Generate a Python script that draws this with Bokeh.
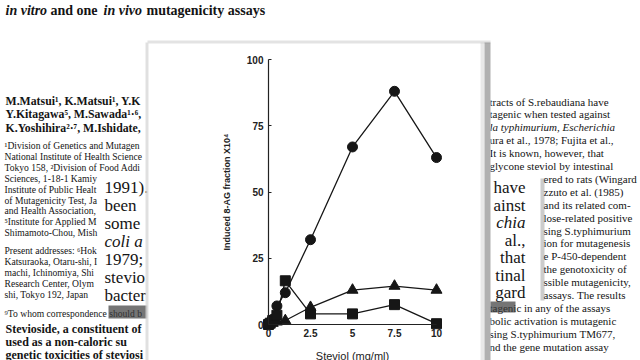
from bokeh.plotting import figure
from bokeh.models import Label, BoxAnnotation
from bokeh.embed import file_html
from bokeh.resources import INLINE

# ---------------- chart data ----------------
dose_circle = [0, 0.1, 0.25, 0.5, 1, 2.5, 5, 7.5, 10]
frac_circle = [0, 1, 2, 7, 12, 32, 67, 88, 63]
dose_square = [0, 0.1, 0.25, 0.5, 1, 2.5, 5, 7.5, 10]
frac_square = [0, 0.5, 1.5, 3.5, 16.5, 4, 4, 7.5, 0.3]
dose_tri = [0, 0.25, 0.5, 1, 2.5, 5, 7.5, 10]
frac_tri = [0, 0.5, 1, 1.5, 6.5, 13, 14.5, 13]
x_ticks = [0, 2.5, 5, 7.5, 10]
x_tick_text = ["0", "2.5", "5", "7.5", "10"]
y_ticks = [0, 25, 50, 75, 100]
x_title = "Steviol (mg/ml)"
y_title = "Induced 8-AG fraction X10\u2074"

# ---------------- surrounding page text ----------------
title_parts = [("in vitro", "bold italic"), ("and one", "bold"), ("in vivo", "bold italic"),
               ("mutagenicity assays", "bold")]
authors = ["M.Matsui\u00b9, K.Matsui\u00b9, Y.K", "Y.Kitagawa\u2075, M.Sawada\u00b9\u00b7\u2076,",
           "K.Yoshihira\u00b2\u00b7\u2077, M.Ishidate,"]
affil = ["\u00b9Division of Genetics and Mutagen", "National Institute of Health Science",
         "Tokyo 158, \u00b2Division of Food Addi", "Sciences, 1-18-1 Kamiy",
         "Institute of Public Healt", "of Mutagenicity Test, Ja", "and Health Association,",
         "\u2075Institute for Applied M", "Shimamoto-Chou, Mish"]
present = ["Present addresses: \u2076Hok", "Katsuraoka, Otaru-shi, I", "machi, Ichinomiya, Shi",
           "Research Center, Olym", "shi, Tokyo 192, Japan"]
corresp = "\u2079To whom correspondence should b"
abstract = ["Stevioside, a constituent of", "used as a non-caloric su", "genetic toxicities of steviosi"]
left_big = ["1991).", "been", "some", "coli a", "1979;", "stevio", "bacter"]
right_lines = ["tracts of S.rebaudiana have", "tagenic when tested against",
               "la typhimurium, Escherichia", "ura et al., 1978; Fujita et al.,",
               "It is known, however, that", "glycone steviol by intestinal",
               "ered to rats (Wingard", "zzuto et al. (1985)", "and its related com-",
               "lose-related positive", "sing S.typhimurium", "ion for mutagenesis",
               "e P-450-dependent", "the genotoxicity of", "ssible mutagenicity,",
               "assays. The results", "tagenic in any of the assays",
               "bolic activation is mutagenic", "sing S.typhimurium TM677,",
               "nd the gene mutation assay"]
right_big = ["have", "ainst", "chia", "al.,", "that", "tinal", "gard"]

# ---------------- geometry: the frame fills the whole canvas ----------------
W, H = 640, 360
PX_X = 16.8      # pixels per mg/ml
PX_Y = 2.65      # pixels per unit of induced fraction
OX, OY = 268, 324  # where the origin lies on the canvas
X0, X1 = -OX / PX_X, (W - OX) / PX_X
Y0, Y1 = -(H - OY) / PX_Y, OY / PX_Y

p = figure(width=W, height=H, output_backend="svg", toolbar_location=None,
           x_range=(X0, X1), y_range=(Y0, Y1),
           min_border_left=0, min_border_right=0, min_border_top=0, min_border_bottom=0)
p.grid.visible = False
p.outline_line_color = None
p.background_fill_color = "white"
p.border_fill_color = "white"


def dx(px):
    return X0 + px / PX_X


def dy(py):
    return (OY - py) / PX_Y


def lab(px, py, txt, size, style="normal", font="Liberation Serif", align="left",
        color="#141414", level="underlay"):
    p.add_layout(Label(x=dx(px), y=dy(py), text=txt, text_font=font,
                       text_font_size=f"{size}px", text_font_style=style,
                       text_align=align, text_baseline="middle", text_color=color,
                       level=level))


def box(x1, x2, y1, y2, color, alpha, level="underlay"):
    p.add_layout(BoxAnnotation(left=dx(x1), right=dx(x2), top=dy(y1), bottom=dy(y2),
                               fill_color=color, fill_alpha=alpha, line_color=None,
                               level=level))


# page text
tx = [5, 50, 103, 146]
for (t, st), x in zip(title_parts, tx):
    lab(x, 10, t, 14, st)
for i, t in enumerate(authors):
    lab(5, 100 + 13.5 * i, t, 11.8, "bold")
for i, t in enumerate(affil):
    lab(4, 145 + 10.9 * i, t, 9.6)
for i, t in enumerate(present):
    lab(4, 250 + 11 * i, t, 9.6)
lab(4, 313, corresp, 9.6)
for i, t in enumerate(abstract):
    lab(5, 328 + 13 * i, t, 12, "bold")
for i, t in enumerate(right_lines):
    x = 543 if 6 <= i <= 15 else 489
    st = "italic" if i == 2 else "normal"
    lab(x, 101 + 12.9 * i, t, 11, st)

# torn paper pieces (left and right)
box(99, 147, 176, 302, "white", 1.0)
box(486, 541, 176, 302, "white", 1.0)
for i, t in enumerate(left_big):
    lab(104, 187 + 18 * i, t, 17, "italic" if t.startswith("coli") else "normal")
for i, t in enumerate(right_big):
    lab(525, 187 + 17.5 * i, t, 17, "italic" if t == "chia" else "normal", align="right")
box(108, 147, 305, 318, "#3a3a3a", 0.7)
box(486, 515, 301, 312, "#3a3a3a", 0.7)
box(540, 544, 178, 300, "#9a9a9a", 0.5)

# card with the chart
box(147, 490, 42, 360, "white", 1.0)
box(145, 148, 42, 360, "#d8d8d8", 0.8)
box(147, 490, 40, 43, "#dcdcdc", 0.8)
box(484, 490, 42, 360, "#6f6f6f", 0.55)
box(480, 484, 42, 360, "#bdbdbd", 0.35)

# ---------------- series ----------------
ink = "#161616"
p.line(dose_circle, frac_circle, line_color=ink, line_width=1.3)
p.line(dose_tri, frac_tri, line_color=ink, line_width=1.3)
p.line(dose_square, frac_square, line_color=ink, line_width=1.3)
p.scatter(dose_circle, frac_circle, marker="circle", size=10, fill_color=ink, line_color=ink)
p.scatter(dose_tri, frac_tri, marker="triangle", size=11, fill_color=ink, line_color=ink)
p.scatter(dose_square, frac_square, marker="square", size=10, fill_color=ink, line_color=ink)

# ---------------- axes (placed at the origin, inside the canvas) ----------------
for ax in (p.xaxis[0], p.yaxis[0]):
    ax.fixed_location = 0
    ax.axis_line_color = "#222222"
    ax.axis_line_width = 1.2
    ax.major_tick_line_color = "#222222"
    ax.minor_tick_line_color = None
    ax.major_tick_out = 0
    ax.major_label_text_font = "Liberation Sans"
    ax.major_label_text_font_size = "10px"
    ax.major_label_text_font_style = "bold"
    ax.major_label_text_color = "#222222"
    ax.axis_label_text_font = "Liberation Sans"
    ax.axis_label_text_color = "#222222"

p.xaxis.ticker = x_ticks
p.xaxis.major_label_overrides = {k: v for k, v in zip(x_ticks, x_tick_text)}
p.xaxis.bounds = (0, 10)
p.xaxis.major_tick_in = 0
p.xaxis.major_label_standoff = 4
p.xaxis.axis_label = x_title
p.xaxis.axis_label_text_font_size = "11px"
p.xaxis.axis_label_text_font_style = "normal"
p.xaxis.axis_label_standoff = 10

p.yaxis.ticker = y_ticks
p.yaxis.bounds = (0, 100)
p.yaxis.major_tick_in = 3
p.yaxis.major_label_standoff = 5
p.yaxis.axis_label = y_title
p.yaxis.axis_label_text_font_size = "9px"
p.yaxis.axis_label_text_font_style = "bold"
p.yaxis.axis_label_standoff = 12

open("out.html", "w").write(file_html(p, INLINE))
